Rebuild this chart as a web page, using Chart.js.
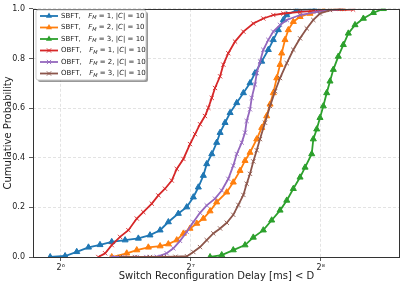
<!DOCTYPE html>
<html>
<head>
<meta charset="utf-8">
<script src="https://cdn.jsdelivr.net/npm/chart.js@4/dist/chart.umd.min.js"></script>
<style>
  body { margin: 0; background: #fff; }
  #wrap { width: 407px; height: 287px; }
</style>
</head>
<body>
<div id="wrap"><canvas id="cdf" width="407" height="287"></canvas></div>
<script>
//// data (delay in ms, cumulative probability)

let xTicks = [64, 128, 256];
let xTickLabels = ['2⁶', '2⁷', '2⁸'];

let delaySbft1 = [60.5, 65.5, 69.7, 74.2, 78.9, 84.0, 90.2, 96.8, 103.0, 108.7, 113.6, 119.8, 125.3, 129.8, 133.3, 136.9, 139.4, 143.2, 147.0, 149.7, 153.7, 157.9, 163.6, 169.5, 175.6, 180.3, 186.9, 193.6, 198.8, 204.2, 209.7, 213.6, 225.3, 248.3];
let probSbft1 = [0.0, 0.004, 0.021, 0.039, 0.049, 0.061, 0.068, 0.075, 0.088, 0.108, 0.141, 0.175, 0.201, 0.241, 0.281, 0.328, 0.375, 0.415, 0.461, 0.501, 0.541, 0.581, 0.621, 0.661, 0.701, 0.741, 0.788, 0.835, 0.875, 0.915, 0.955, 0.975, 0.995, 1.0];

let delaySbft2 = [84.0, 91.0, 96.0, 102.1, 108.7, 113.6, 118.8, 123.1, 127.5, 132.2, 136.9, 141.9, 147.0, 155.1, 160.6, 166.5, 171.0, 175.6, 182.0, 186.9, 191.9, 195.4, 198.8, 202.5, 206.1, 207.9, 211.6, 215.4, 221.2, 229.3, 241.8, 259.6, 288.3];
let probSbft2 = [0.0, 0.015, 0.028, 0.039, 0.044, 0.052, 0.068, 0.095, 0.115, 0.135, 0.155, 0.185, 0.221, 0.261, 0.301, 0.348, 0.388, 0.421, 0.475, 0.521, 0.568, 0.615, 0.661, 0.721, 0.775, 0.821, 0.875, 0.915, 0.948, 0.968, 0.981, 0.995, 1.0];

let delaySbft3 = [141.9, 151.0, 160.6, 171.0, 178.7, 188.5, 197.1, 206.1, 213.6, 221.2, 229.3, 235.5, 244.0, 246.1, 250.6, 255.0, 259.6, 264.3, 269.0, 273.8, 281.2, 288.8, 296.6, 307.4, 321.4, 339.0, 357.5];
let probSbft3 = [0.0, 0.008, 0.028, 0.048, 0.079, 0.108, 0.148, 0.188, 0.228, 0.275, 0.321, 0.361, 0.415, 0.475, 0.515, 0.561, 0.608, 0.661, 0.708, 0.755, 0.808, 0.855, 0.901, 0.935, 0.961, 0.984, 1.0];

let delayObft1 = [78.2, 81.1, 84.0, 87.8, 91.8, 96.0, 99.4, 104.0, 107.7, 111.6, 115.7, 118.8, 123.1, 127.5, 131.0, 134.5, 138.1, 140.6, 143.2, 145.7, 149.7, 152.3, 156.4, 162.1, 169.5, 178.7, 188.5, 198.8, 209.7, 229.3, 250.6, 304.2];
let probObft1 = [0.0, 0.015, 0.048, 0.081, 0.108, 0.155, 0.181, 0.215, 0.248, 0.275, 0.308, 0.355, 0.395, 0.455, 0.495, 0.535, 0.568, 0.601, 0.641, 0.681, 0.728, 0.775, 0.821, 0.868, 0.908, 0.941, 0.961, 0.975, 0.981, 0.988, 0.993, 0.997];

let delayObft2 = [84.0, 90.0, 96.0, 101.0, 106.8, 112.6, 116.7, 120.9, 125.3, 129.8, 134.5, 139.4, 145.7, 151.0, 156.4, 160.6, 163.6, 168.0, 171.0, 172.5, 175.6, 177.2, 180.3, 182.0, 185.2, 188.5, 193.6, 198.8, 206.1, 213.6, 229.3, 250.6, 288.3];
let probObft2 = [0.0, 0.0, 0.0, 0.0, 0.001, 0.015, 0.035, 0.065, 0.101, 0.141, 0.178, 0.208, 0.235, 0.268, 0.315, 0.368, 0.415, 0.461, 0.501, 0.548, 0.595, 0.641, 0.695, 0.741, 0.788, 0.835, 0.875, 0.908, 0.935, 0.955, 0.975, 0.988, 1.0];

let delayObft3 = [87.8, 95.0, 103.0, 111.0, 118.0, 125.5, 129.8, 134.5, 139.4, 144.4, 149.7, 155.1, 160.6, 165.0, 169.5, 172.5, 175.6, 178.7, 182.0, 185.2, 190.2, 195.4, 200.7, 206.1, 213.6, 221.2, 229.3, 237.6, 246.1, 255.0, 269.0, 283.8];
let probObft3 = [0.0, 0.0, 0.0, 0.0, 0.001, 0.003, 0.02, 0.04, 0.068, 0.095, 0.115, 0.138, 0.17, 0.21, 0.25, 0.295, 0.335, 0.385, 0.43, 0.475, 0.541, 0.608, 0.668, 0.721, 0.781, 0.835, 0.881, 0.921, 0.955, 0.981, 0.995, 1.0];

let schemeNames = ['SBFT,', 'SBFT,', 'SBFT,', 'OBFT,', 'OBFT,', 'OBFT,'];
let fmValues = [1, 2, 3, 1, 2, 3];
let committeeSize = [10, 10, 10, 10, 10, 10];

/// styling
let colors = ['#1f77b4', '#ff7f0e', '#2ca02c', '#d62728', '#9467bd', '#8c564b'];
let markers = ['triangle', 'triangle', 'triangle', 'crossRot', 'crossRot', 'crossRot'];
let fontFamily = '"DejaVu Sans", sans-serif';

let allDelays = [delaySbft1, delaySbft2, delaySbft3, delayObft1, delayObft2, delayObft3];
let allProbs = [probSbft1, probSbft2, probSbft3, probObft1, probObft2, probObft3];

function toPoints(xs, ys) {
    let pts = [];
    for (let i = 0; i < xs.length; i++) {
        pts.push({ x: xs[i], y: ys[i] });
    }
    return pts;
}

let datasets = [];
for (let i = 0; i < allDelays.length; i++) {
    let isCross = markers[i] === 'crossRot';
    datasets.push({
        label: schemeNames[i] + ' F_M = ' + fmValues[i] + ', |C| = ' + committeeSize[i],
        data: toPoints(allDelays[i], allProbs[i]),
        borderColor: colors[i],
        backgroundColor: colors[i],
        borderWidth: 1.8,
        pointStyle: markers[i],
        pointRadius: isCross ? 3 : 3.5,
        pointBorderWidth: isCross ? 0.9 : 1,
        pointBackgroundColor: colors[i],
        pointBorderColor: colors[i],
        tension: 0,
        order: allDelays.length - i
    });
}

// little marker drawer for the legend
function drawMarker(ctx, style, x, y, color) {
    ctx.save();
    ctx.fillStyle = color;
    ctx.strokeStyle = color;
    if (style === 'triangle') {
        let r = 3.5;
        ctx.beginPath();
        for (let k = 0; k < 3; k++) {
            let a = k * 2 * Math.PI / 3;
            let px = x + Math.sin(a) * r;
            let py = y - Math.cos(a) * r;
            if (k === 0) ctx.moveTo(px, py); else ctx.lineTo(px, py);
        }
        ctx.closePath();
        ctx.fill();
    } else {
        let r = 3 * Math.SQRT1_2;
        ctx.lineWidth = 0.9;
        ctx.beginPath();
        ctx.moveTo(x - r, y - r); ctx.lineTo(x + r, y + r);
        ctx.moveTo(x + r, y - r); ctx.lineTo(x - r, y + r);
        ctx.stroke();
    }
    ctx.restore();
}

function roundRectPath(ctx, x, y, w, h, r) {
    ctx.beginPath();
    ctx.moveTo(x + r, y);
    ctx.lineTo(x + w - r, y);
    ctx.arcTo(x + w, y, x + w, y + r, r);
    ctx.lineTo(x + w, y + h - r);
    ctx.arcTo(x + w, y + h, x + w - r, y + h, r);
    ctx.lineTo(x + r, y + h);
    ctx.arcTo(x, y + h, x, y + h - r, r);
    ctx.lineTo(x, y + r);
    ctx.arcTo(x, y, x + r, y, r);
    ctx.closePath();
}

let frameAndLegend = {
    id: 'frameAndLegend',
    afterDatasetsDraw(chart) {
        let ctx = chart.ctx;
        let area = chart.chartArea;
        ctx.save();
        // axes box
        ctx.strokeStyle = '#333';
        ctx.lineWidth = 1;
        ctx.strokeRect(Math.round(area.left) + 0.5, Math.round(area.top) + 0.5,
            Math.round(area.right - area.left) - 1, Math.round(area.bottom - area.top));

        // legend with shadow
        let bx = 36, by = 10, bw = 110, bh = 70;
        ctx.fillStyle = 'rgba(0,0,0,0.4)';
        roundRectPath(ctx, bx + 2, by + 2, bw, bh, 2);
        ctx.fill();
        ctx.fillStyle = '#fff';
        roundRectPath(ctx, bx, by, bw, bh, 2);
        ctx.fill();
        ctx.strokeStyle = '#ccc';
        ctx.lineWidth = 1;
        ctx.stroke();

        for (let i = 0; i < schemeNames.length; i++) {
            let y = 16 + i * 11.5;
            ctx.strokeStyle = colors[i];
            ctx.lineWidth = 1.8;
            ctx.beginPath();
            ctx.moveTo(40, y);
            ctx.lineTo(58, y);
            ctx.stroke();
            drawMarker(ctx, markers[i], 49, y, colors[i]);

            ctx.fillStyle = '#222';
            ctx.textBaseline = 'middle';
            ctx.font = '7px ' + fontFamily;
            let x = 61;
            ctx.fillText(schemeNames[i], x, y);
            x += ctx.measureText(schemeNames[i]).width + 7.5;
            ctx.font = 'italic 7px ' + fontFamily;
            ctx.fillText('F', x, y);
            x += ctx.measureText('F').width;
            ctx.font = 'italic 5px ' + fontFamily;
            ctx.fillText('M', x, y + 2);
            x += ctx.measureText('M').width;
            ctx.font = '7px ' + fontFamily;
            let part = ' = ' + fmValues[i] + ', |';
            ctx.fillText(part, x, y);
            x += ctx.measureText(part).width;
            ctx.font = 'italic 7px ' + fontFamily;
            ctx.fillText('C', x, y);
            x += ctx.measureText('C').width;
            ctx.font = '7px ' + fontFamily;
            ctx.fillText('| = ' + committeeSize[i], x, y);
        }
        ctx.restore();
    }
};

let ctx = document.getElementById('cdf').getContext('2d');
new Chart(ctx, {
    type: 'line',
    data: { datasets: datasets },
    options: {
        responsive: false,
        animation: false,
        parsing: true,
        layout: { padding: { top: 7, right: 7, left: 0, bottom: 0 } },
        plugins: {
            legend: { display: false },
            tooltip: { enabled: false }
        },
        scales: {
            x: {
                type: 'logarithmic',
                min: 55.2,
                max: 390.7,
                afterBuildTicks: function(scale) {
                    scale.ticks = xTicks.map(v => ({ value: v }));
                },
                afterFit: function(scale) { scale.height = 30; },
                ticks: {
                    autoSkip: false,
                    maxRotation: 0,
                    padding: 2,
                    color: '#222',
                    font: { family: fontFamily, size: 8 },
                    callback: function(v) {
                        let idx = xTicks.indexOf(v);
                        return idx >= 0 ? xTickLabels[idx] : '';
                    }
                },
                grid: { color: '#dcdcdc', tickColor: '#333', tickLength: 4, lineWidth: 0.8 },
                border: { display: false, dash: [3, 2] },
                title: {
                    display: true,
                    text: 'Switch Reconfiguration Delay [ms] < D',
                    color: '#222',
                    font: { family: fontFamily, size: 10 },
                    padding: { top: 0, bottom: 5 }
                }
            },
            y: {
                min: 0,
                max: 1,
                afterFit: function(scale) { scale.width = 33; },
                ticks: {
                    stepSize: 0.2,
                    padding: 4,
                    color: '#222',
                    font: { family: fontFamily, size: 8 },
                    callback: function(v) { return v.toFixed(1); }
                },
                grid: { color: '#dcdcdc', tickColor: '#333', tickLength: 4, lineWidth: 0.8 },
                border: { display: false, dash: [3, 2] },
                title: {
                    display: true,
                    text: 'Cumulative Probability',
                    color: '#222',
                    font: { family: fontFamily, size: 10 },
                    padding: { top: 2, bottom: 0 }
                }
            }
        }
    },
    plugins: [frameAndLegend]
});
</script>
</body>
</html>
